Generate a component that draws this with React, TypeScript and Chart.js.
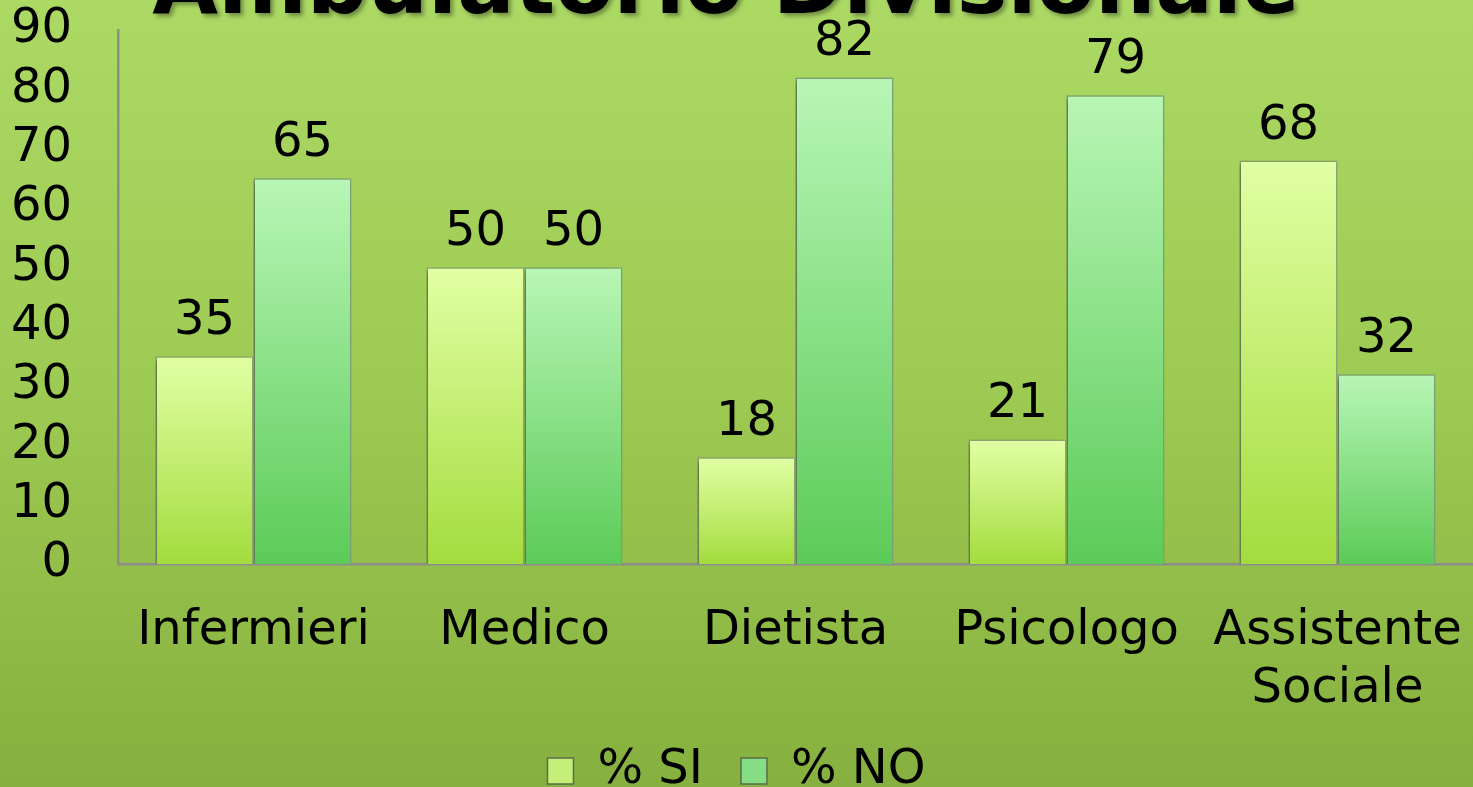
import React, { useEffect, useRef } from "react";
import { Chart, registerables } from "chart.js";

Chart.register(...registerables);

const categories: (string | string[])[] = ["Infermieri", "Medico", "Dietista", "Psicologo", ["Assistente", "Sociale"]];
const seriesSI = [35, 50, 18, 21, 68];
const seriesNO = [65, 50, 82, 79, 32];
const seriesNames = ["% SI", "% NO"];
const yTicks = [0, 10, 20, 30, 40, 50, 60, 70, 80, 90];
const titleText = "Ambulatorio Divisionale";

const FONT = "'DejaVu Sans', Verdana, sans-serif";
const VIEW_H = 787;
const CANVAS_H = 805;

function barGradient(ctx: any, top: string, bottom: string) {
  const chart = ctx.chart;
  const area = chart.chartArea;
  const yScale = chart.scales && chart.scales.y;
  if (!area || !yScale) return top;
  const v = ctx.raw;
  const y0 = typeof v === "number" ? yScale.getPixelForValue(v) : area.top;
  const y1 = yScale.getPixelForValue(0);
  if (!isFinite(y0) || !isFinite(y1) || y0 === y1) return top;
  const g = chart.ctx.createLinearGradient(0, y0, 0, y1);
  g.addColorStop(0, top);
  g.addColorStop(1, bottom);
  return g;
}

const bgPlugin = {
  id: "bgPlugin",
  beforeDraw(chart: any) {
    const { ctx, width, height } = chart;
    ctx.save();
    const g = ctx.createLinearGradient(0, 0, 0, VIEW_H);
    g.addColorStop(0, "#acd964");
    g.addColorStop(0.5, "#9dca52");
    g.addColorStop(1, "#86b03f");
    ctx.fillStyle = g;
    ctx.fillRect(0, 0, width, height);
    ctx.font = `bold 85px ${FONT}`;
    ctx.textAlign = "center";
    ctx.textBaseline = "alphabetic";
    ctx.shadowColor = "rgba(0,0,0,0.35)";
    ctx.shadowOffsetX = 3;
    ctx.shadowOffsetY = 3;
    ctx.shadowBlur = 4;
    ctx.fillStyle = "#000";
    ctx.fillText(titleText, 726, 13);
    ctx.restore();
  },
  beforeDatasetsDraw(chart: any) {
    const ctx = chart.ctx;
    ctx.save();
    ctx.shadowColor = "rgba(40,60,10,0.45)";
    ctx.shadowOffsetX = -3;
    ctx.shadowOffsetY = 2;
    ctx.shadowBlur = 5;
  },
  afterDatasetsDraw(chart: any) {
    const ctx = chart.ctx;
    ctx.restore();
    ctx.save();
    ctx.font = `48px ${FONT}`;
    ctx.fillStyle = "#000";
    ctx.textAlign = "center";
    ctx.textBaseline = "alphabetic";
    chart.data.datasets.forEach((ds: any, di: number) => {
      const meta = chart.getDatasetMeta(di);
      meta.data.forEach((el: any, i: number) => {
        ctx.fillText(String(ds.data[i]), el.x, el.y - 22);
      });
    });
    ctx.restore();
  },
};

export default function App() {
  const ref = useRef<HTMLCanvasElement>(null);
  useEffect(() => {
    document.body.style.margin = "0";
    document.body.style.overflow = "hidden";
    const canvas = ref.current!;
    const chart = new Chart(canvas, {
      type: "bar",
      data: {
        labels: categories,
        datasets: [
          {
            label: seriesNames[0],
            data: seriesSI,
            backgroundColor: (c: any) => barGradient(c, "#e2ffa4", "#a3dc3e"),
            borderColor: "#8ea872",
            borderWidth: 1.5,
            categoryPercentage: 0.723,
            barPercentage: 1,
          },
          {
            label: seriesNames[1],
            data: seriesNO,
            backgroundColor: (c: any) => barGradient(c, "#b8f6b6", "#5ccb58"),
            borderColor: "#7fa47a",
            borderWidth: 1.5,
            categoryPercentage: 0.723,
            barPercentage: 1,
          },
        ],
      },
      options: {
        animation: false,
        responsive: false,
        maintainAspectRatio: false,
        layout: { padding: { top: 30, right: 0, left: 0, bottom: 0 } },
        plugins: {
          title: { display: false },
          tooltip: { enabled: false },
          legend: {
            position: "bottom",
            labels: {
              font: { family: FONT, size: 48 },
              color: "#000",
              boxWidth: 26,
              boxHeight: 26,
              padding: 38,
              generateLabels: (chart: any) =>
                chart.data.datasets.map((ds: any, i: number) => ({
                  text: ds.label,
                  fillStyle: i === 0 ? "#c4ef78" : "#86de84",
                  strokeStyle: "#5a6e48",
                  lineWidth: 1.5,
                  datasetIndex: i,
                  hidden: false,
                })),
            },
          },
        },
        scales: {
          x: {
            afterFit: (s: any) => {
              s.height = 145;
              s.paddingLeft = 0;
              s.paddingRight = 0;
            },
            grid: { display: false, drawTicks: false },
            border: { display: true, color: "#8c8c8c", width: 2.5 },
            ticks: {
              font: { family: FONT, size: 48 },
              color: "#000",
              padding: 39,
              maxRotation: 0,
              autoSkip: false,
            },
          },
          y: {
            min: 0,
            max: 90,
            afterFit: (s: any) => {
              s.width = 118;
              s.paddingTop = 0;
              s.paddingBottom = 0;
            },
            afterBuildTicks: (s: any) => {
              s.ticks = yTicks.map((v) => ({ value: v }));
            },
            grid: { display: false, drawTicks: false },
            border: { display: true, color: "#8c8c8c", width: 2.5 },
            ticks: {
              font: { family: FONT, size: 48 },
              color: "#000",
              padding: 46,
              autoSkip: false,
            },
          },
        },
      },
      plugins: [bgPlugin],
    } as any);
    return () => chart.destroy();
  }, []);
  return (
    <div style={{ position: "absolute", left: 0, top: 0, width: 1473, height: VIEW_H, overflow: "hidden" }}>
      <canvas ref={ref} width={1473} height={CANVAS_H} style={{ display: "block" }} />
    </div>
  );
}
